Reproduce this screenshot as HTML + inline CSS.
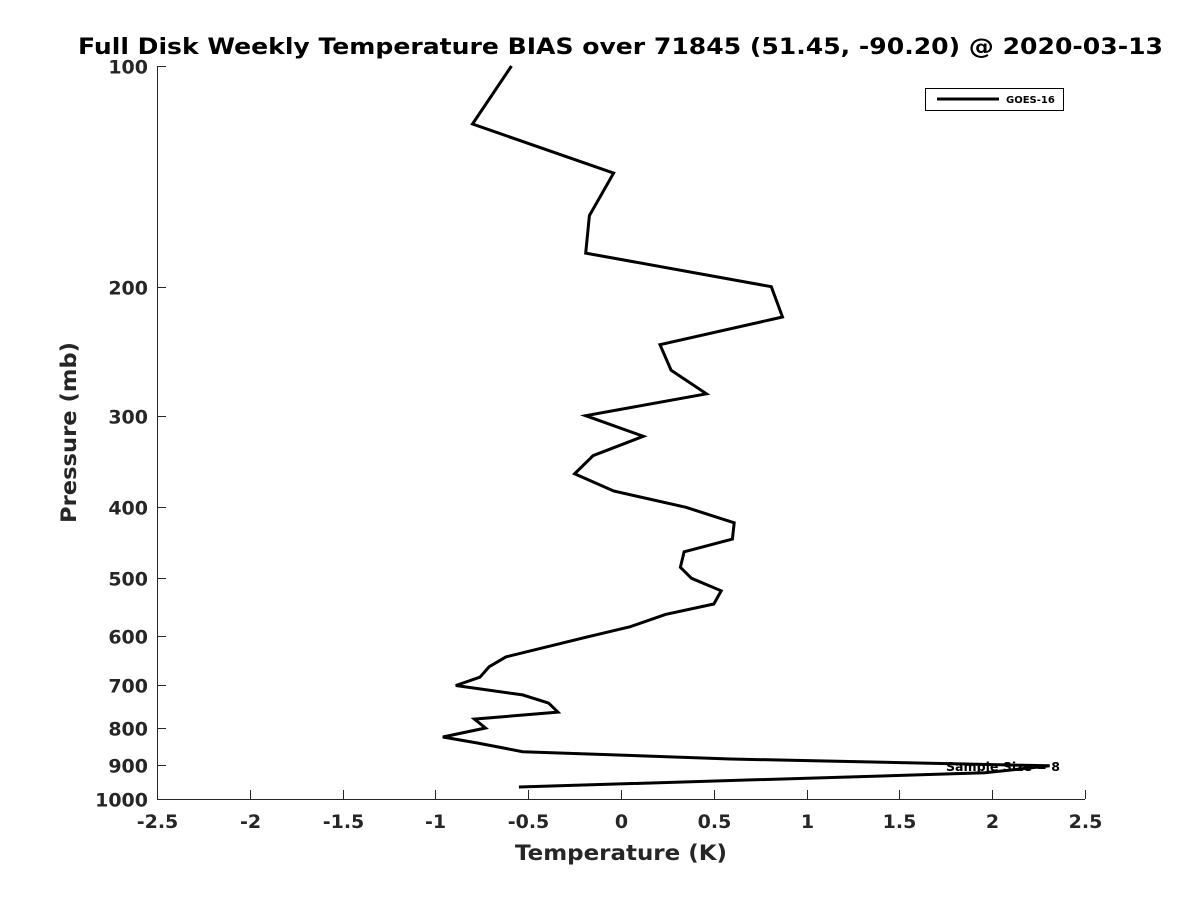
<!DOCTYPE html>
<html><head><meta charset="utf-8"><style>
body{margin:0;background:#fff;}
svg{display:block;font-family:"DejaVu Sans","Liberation Sans",sans-serif;}
</style></head><body>
<svg id="chart" width="1200" height="900" viewBox="0 0 1200 900" xmlns="http://www.w3.org/2000/svg">
<rect width="1200" height="900" fill="#fff"/>
<text x="78" y="54" textLength="1085" lengthAdjust="spacingAndGlyphs" font-size="22" font-weight="bold" fill="#000">Full Disk Weekly Temperature BIAS over 71845 (51.45, -90.20) @ 2020-03-13</text>
<g id="axes"></g>
<g id="series"></g>
<text x="515" y="860" textLength="212" lengthAdjust="spacingAndGlyphs" font-size="21" font-weight="bold" fill="#262626">Temperature (K)</text>
<text transform="translate(76,523) rotate(-90)" textLength="181" lengthAdjust="spacingAndGlyphs" font-size="21" font-weight="bold" fill="#262626">Pressure (mb)</text>
<g>
<rect x="925.5" y="88.5" width="138" height="22" fill="#fff" stroke="#000" stroke-width="1"/>
<line x1="937" y1="99" x2="999" y2="99" stroke="#000" stroke-width="3"/>
<text x="1006" y="103" font-size="10" font-weight="bold" fill="#000">GOES-16</text>
</g>
<text x="946" y="771" textLength="114" lengthAdjust="spacingAndGlyphs" font-size="12" font-weight="bold" fill="#000">Sample Size = 8</text>
</svg>
<script>
const xTicks=[-2.5,-2,-1.5,-1,-0.5,0,0.5,1,1.5,2,2.5];
const xTickLabels=["-2.5","-2","-1.5","-1","-0.5","0","0.5","1","1.5","2","2.5"];
const yTicks=[100,200,300,400,500,600,700,800,900,1000];
const temps=[-0.59,-0.80,-0.04,-0.17,-0.19,0.81,0.87,0.21,0.27,0.46,-0.19,0.12,-0.15,-0.25,-0.04,0.35,0.61,0.60,0.34,0.32,0.38,0.54,0.50,0.24,0.05,-0.17,-0.62,-0.71,-0.76,-0.89,-0.53,-0.39,-0.34,-0.79,-0.73,-0.96,-0.77,-0.53,0.59,2.31,1.96,-0.55];
const pressures=[100,120,140,160,180,200,220,240,260,280,300,320,340,360,380,400,420,442,460,483,500,520,542,560,582,600,640,660,682,700,721,740,761,778,800,823,839,862,882,901,921,963];
const X0=157,X1=1085,Y0=66,Y1=799;
function xs(v){return X0+(v-(-2.5))/5*(X1-X0);}
function ys(p){return Y0+Math.log10(p/100)*(Y1-Y0);}
const NS="http://www.w3.org/2000/svg";
const axes=document.getElementById('axes');
function mk(tag,attrs,parent){const e=document.createElementNS(NS,tag);for(const k in attrs)e.setAttribute(k,attrs[k]);parent.appendChild(e);return e;}
const xl=mk('line',{x1:X0,y1:Y1+0.5,x2:X1,y2:Y1+0.5,stroke:'#262626','stroke-width':1},axes);


const yl=mk('line',{x1:X0+0.5,y1:Y0,x2:X0+0.5,y2:Y1,stroke:'#262626','stroke-width':1},axes);


xTicks.forEach((t,i)=>{
  const x=Math.round(xs(t))+0.5;
  mk('line',{x1:x,y1:Y1,x2:x,y2:Y1-9,stroke:'#262626','stroke-width':1},axes);
  const tx=mk('text',{x:x,y:Y1+29,'text-anchor':'middle','font-size':19,'font-weight':'bold',fill:'#262626'},axes);
  tx.textContent=xTickLabels[i];
  
  
});
yTicks.forEach(t=>{
  const y=Math.round(ys(t))+0.5;
  mk('line',{x1:X0,y1:y,x2:X0+9,y2:y,stroke:'#262626','stroke-width':1},axes);
  const tx=mk('text',{x:X0-9,y:y+7,'text-anchor':'end','font-size':19,'font-weight':'bold',fill:'#262626'},axes);
  tx.textContent=String(t);
  
  
});
const pts=temps.map((t,i)=>xs(t).toFixed(1)+','+ys(pressures[i]).toFixed(1)).join(' ');
const pl=mk('polyline',{points:pts,fill:'none',stroke:'#000','stroke-width':3,'stroke-linejoin':'miter'},document.getElementById('series'));


</script>
</body></html>
